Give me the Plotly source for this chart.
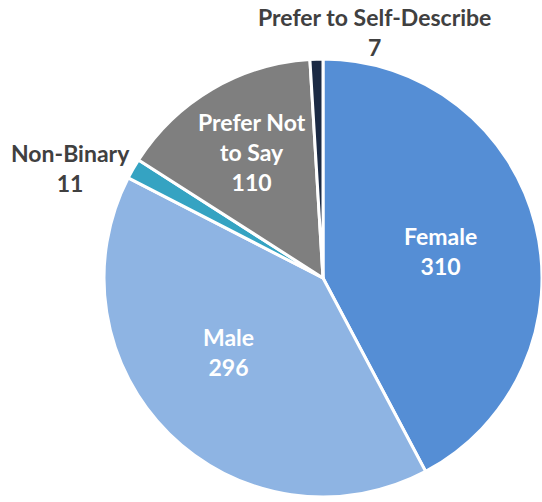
import plotly.graph_objects as go

labels = ["Female", "Male", "Non-Binary", "Prefer Not to Say", "Prefer to Self-Describe"]
display = ["Female", "Male", "Non-Binary", "Prefer Not<br>to Say", "Prefer to Self-Describe"]
values = [310, 296, 11, 110, 7]
colors = ["#558ED5", "#8EB4E3", "#35A3C2", "#7F7F7F", "#1B2A44"]
inside = [True, True, False, True, False]

W, H = 542, 502
FONT = "Lato"

# label block centres in pixels (styling/layout, not data)
LABEL_POS = [(440, 251), (228, 352), (70, 168), (252, 152), (374, 32)]

fig = go.Figure(go.Pie(
    labels=labels,
    values=values,
    textinfo="none",
    sort=False,
    direction="clockwise",
    rotation=0,
    marker=dict(colors=colors, line=dict(color="white", width=3)),
    hoverinfo="label+value",
    domain=dict(x=[104 / W, 542 / W], y=[1 - 497 / H, 1 - 59 / H]),
    showlegend=False,
))

annotations = []
for i, (px, py) in enumerate(LABEL_POS):
    annotations.append(dict(
        x=px / W, y=1 - py / H, xref="paper", yref="paper",
        text=f"{display[i]}<br>{values[i]}", showarrow=False,
        font=dict(family=FONT, size=23, color="white" if inside[i] else "#404040", weight="bold"),
        xanchor="center", yanchor="middle", align="center",
    ))

fig.update_layout(
    width=W, height=H,
    margin=dict(l=0, r=0, t=0, b=0),
    paper_bgcolor="white",
    plot_bgcolor="white",
    annotations=annotations,
)

fig.write_html("out.html")
